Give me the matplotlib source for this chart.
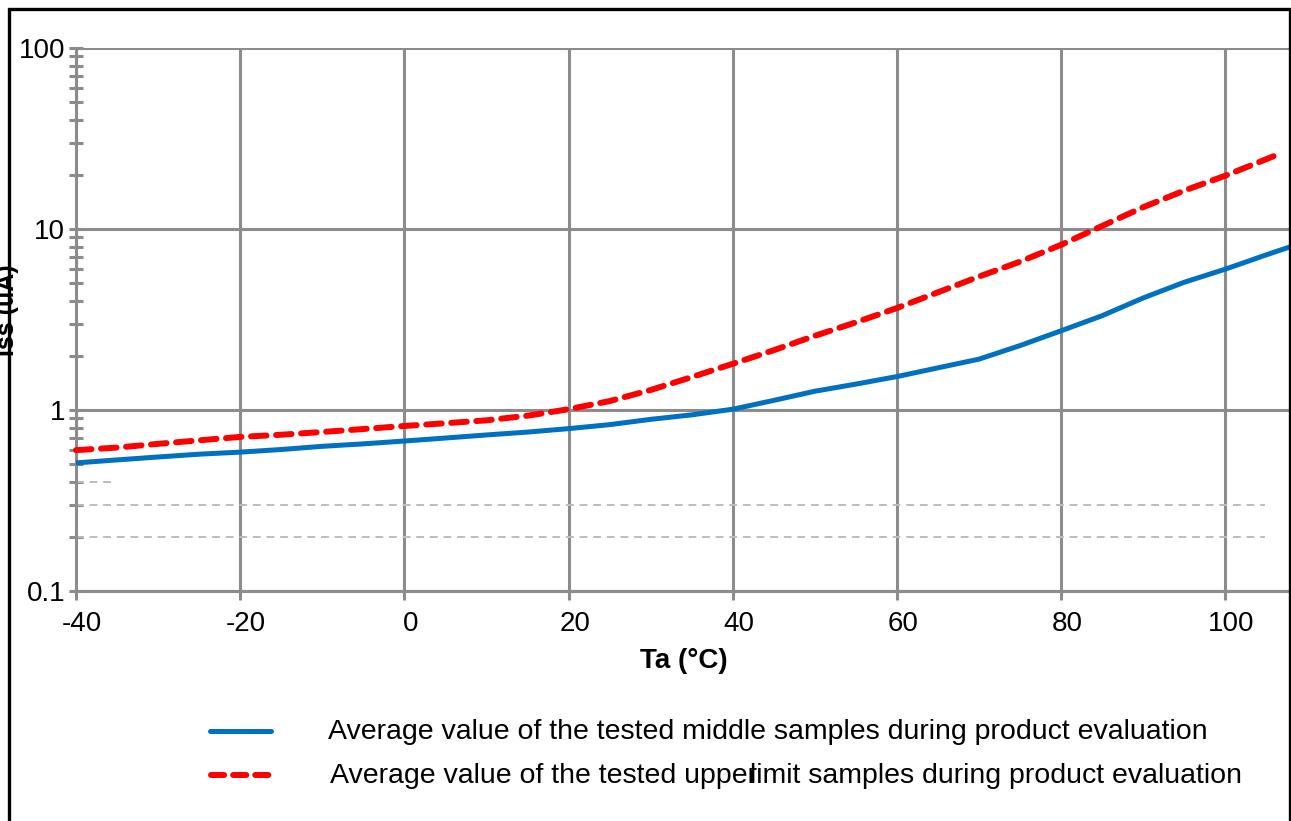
import matplotlib
matplotlib.use("Agg")
import matplotlib.pyplot as plt
import matplotlib.transforms as mtransforms
from matplotlib.lines import Line2D
from matplotlib.patches import Rectangle
from matplotlib.ticker import LogLocator, FixedLocator, NullFormatter

plt.rcParams['font.family'] = ['Liberation Sans', 'DejaVu Sans']
plt.rcParams['axes.unicode_minus'] = False

# ---- data ----
temp_mid = [-40, -35, -30, -25, -20, -15, -10, -5, 0, 5, 10, 15, 20, 25, 30, 35, 40,
            45, 50, 55, 60, 65, 70, 75, 80, 85, 90, 95, 100, 105, 108]
iss_mid = [0.51, 0.53, 0.55, 0.57, 0.585, 0.605, 0.63, 0.65, 0.674, 0.70, 0.728, 0.755,
           0.789, 0.83, 0.888, 0.94, 1.01, 1.13, 1.27, 1.39, 1.53, 1.71, 1.91, 2.27,
           2.74, 3.32, 4.16, 5.08, 6.0, 7.2, 8.0]
temp_up = [-40, -35, -30, -25, -20, -15, -10, -5, 0, 5, 10, 15, 20, 25, 30, 35, 40,
           45, 50, 55, 60, 65, 70, 75, 80, 85, 90, 95, 100, 106.3]
iss_up = [0.60, 0.62, 0.65, 0.68, 0.71, 0.73, 0.756, 0.785, 0.816, 0.845, 0.877, 0.93,
          1.01, 1.12, 1.29, 1.52, 1.80, 2.14, 2.57, 3.05, 3.66, 4.47, 5.46, 6.6, 8.18,
          10.4, 13.2, 16.3, 19.7, 25.7]
x_ticks = [-40, -20, 0, 20, 40, 60, 80, 100]
y_ticks = [0.1, 1, 10, 100]
y_tick_labels = ["0.1", "1", "10", "100"]
ref_levels_long = [0.2, 0.3]
ref_level_short = [0.4]
label_mid = "Average value of the tested middle samples during product evaluation"
label_up_a = "Average value of the tested upper"
label_up_b = "limit samples during product evaluation"
x_label = "Ta (\u00b0C)"
y_label = "Iss (uA)"

W, H = 1291, 821
FS = 20
FS_LEG = 20.5
fig = plt.figure(figsize=(W / 100, H / 100), dpi=100)
ax = fig.add_axes([76 / W, 1 - 591 / H, (W - 76) / W, (591 - 48) / H])

grid_c = '#8c8c8c'
ax.set_yscale('log')
ax.set_xlim(-40, 108)
ax.set_ylim(0.1, 100)

# reference dashed lines
for lv in ref_levels_long:
    ax.plot([-40, 104.8], [lv, lv], color='#bdbdbd', lw=1.4, ls=(0, (4, 3)), zorder=1)
for lv in ref_level_short:
    ax.plot([-40, -35.4], [lv, lv], color='#bdbdbd', lw=1.4, ls=(0, (4, 3)), zorder=1)

ax.plot(temp_mid, iss_mid, color='#0070c0', lw=3.6, solid_capstyle='round', zorder=3)
ax.plot(temp_up, iss_up, color='#ff0000', lw=4.3, ls=(0, (2.6, 1.6)),
        dash_capstyle='round', zorder=4, clip_on=False)

ax.xaxis.set_major_locator(FixedLocator(x_ticks))
ax.yaxis.set_major_locator(FixedLocator(y_ticks))
ax.set_yticklabels(y_tick_labels)
ax.yaxis.set_minor_locator(LogLocator(base=10, subs=range(2, 10)))
ax.yaxis.set_minor_formatter(NullFormatter())

ax.grid(True, which='major', color=grid_c, lw=2.2, zorder=0)
ax.set_axisbelow(True)
for s in ['top', 'right']:
    ax.spines[s].set_visible(False)
for s in ['left', 'bottom']:
    ax.spines[s].set_color(grid_c)
    ax.spines[s].set_linewidth(2.2)

ax.tick_params(axis='y', which='both', direction='inout', length=9.5, width=2.2,
               color=grid_c, labelsize=FS, pad=3)
ax.tick_params(axis='x', which='major', direction='out', length=6.5, width=2.2,
               color=grid_c, labelsize=FS, pad=8)
offset = mtransforms.ScaledTranslation(6 / 100, 0, fig.dpi_scale_trans)
for lab in ax.get_xticklabels():
    lab.set_transform(lab.get_transform() + offset)

ax.set_xlabel(x_label, fontsize=FS, fontweight='bold', labelpad=8)

# y label (partly hidden at the left edge, as in the reference)
fig.text(7 / W, 1 - 310 / H, y_label, rotation=90, ha='center', va='center',
         fontsize=FS - 2, fontweight='bold')

# legend
fig.add_artist(Line2D([210 / W, 271 / W], [1 - 731 / H, 1 - 731 / H],
                      color='#0070c0', lw=3.6, solid_capstyle='round',
                      transform=fig.transFigure))
fig.add_artist(Line2D([211 / W, 271 / W], [1 - 775 / H, 1 - 775 / H],
                      color='#ff0000', lw=4.3, ls=(0, (2.2, 1.5)), dash_capstyle='round',
                      transform=fig.transFigure))
fig.text(328 / W, 1 - 732 / H, label_mid, fontsize=FS_LEG, va='center', ha='left')
fig.text(330 / W, 1 - 776 / H, label_up_a, fontsize=FS_LEG, va='center', ha='left')
fig.text(750 / W, 1 - 776 / H, label_up_b, fontsize=FS_LEG, va='center', ha='left')

# outer frame
fig.add_artist(Rectangle((9 / W, -0.02), (1289.5 - 9) / W, 1.02 - 9 / H,
                         transform=fig.transFigure, fill=False, edgecolor='black',
                         lw=2.4, zorder=10))

fig.savefig('out.png', dpi=100)
